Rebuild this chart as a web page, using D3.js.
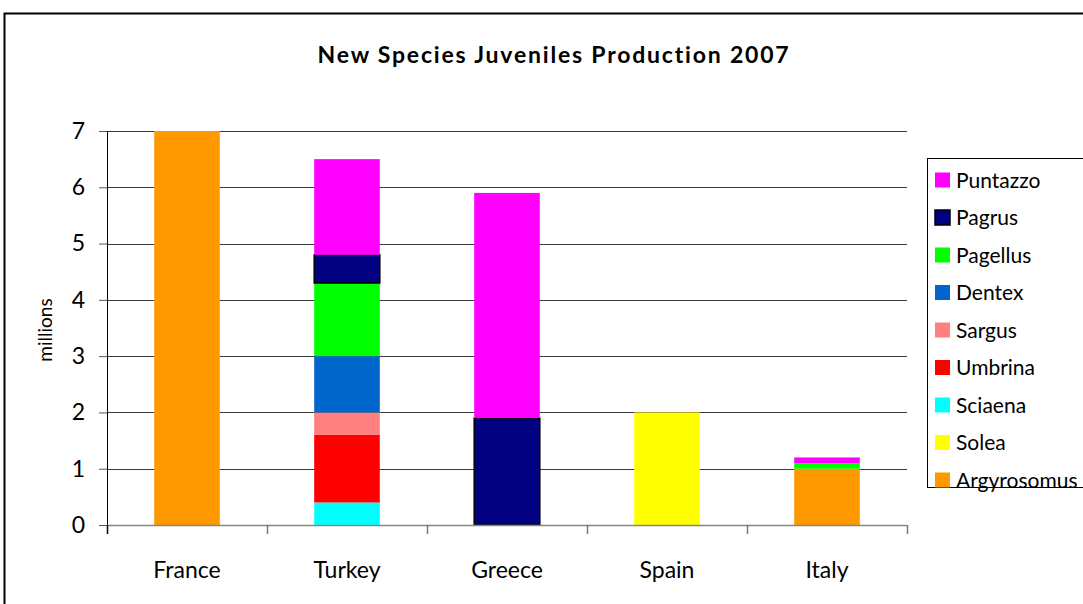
<!DOCTYPE html>
<html>
<head>
<meta charset="utf-8">
<script src="https://cdn.jsdelivr.net/npm/d3@7"></script>
<style>
  body { margin: 0; background: #fff; }
  svg { display: block; font-family: Lato, "Open Sans", sans-serif; }
</style>
</head>
<body>
<svg id="chart" width="1083" height="604"></svg>
<script>
// chart data (millions)
var countries = ["France", "Turkey", "Greece", "Spain", "Italy"];
// species listed bottom of stack -> top
var species = ["Argyrosomus", "Solea", "Sciaena", "Umbrina", "Sargus", "Dentex", "Pagellus", "Pagrus", "Puntazzo"];
var argyrosomus = [7.0, 0, 0, 0, 1.0];
var solea       = [0, 0, 0, 2.0, 0];
var sciaena     = [0, 0.4, 0, 0, 0];
var umbrina     = [0, 1.2, 0, 0, 0];
var sargus      = [0, 0.4, 0, 0, 0];
var dentex      = [0, 1.0, 0, 0, 0];
var pagellus    = [0, 1.3, 0, 0, 0.1];
var pagrus      = [0, 0.5, 1.9, 0, 0];
var puntazzo    = [0, 1.7, 4.0, 0, 0.1];
var yTicks = [0, 1, 2, 3, 4, 5, 6, 7];

var colors = {
  Argyrosomus: "#ff9900", Solea: "#ffff00", Sciaena: "#00ffff", Umbrina: "#ff0000",
  Sargus: "#ff8080", Dentex: "#0066cc", Pagellus: "#00ff00", Pagrus: "#000080", Puntazzo: "#ff00ff"
};

var values = {
  Argyrosomus: argyrosomus, Solea: solea, Sciaena: sciaena, Umbrina: umbrina,
  Sargus: sargus, Dentex: dentex, Pagellus: pagellus, Pagrus: pagrus, Puntazzo: puntazzo
};

var table = countries.map(function (c, i) {
  var row = {country: c};
  species.forEach(function (s) { row[s] = values[s][i]; });
  return row;
});

var svg = d3.select("#chart");

// outer frame (runs off the right/bottom edge like the original)
svg.append("rect")
  .attr("x", 4.5).attr("y", 13.5)
  .attr("width", 1100).attr("height", 600)
  .attr("fill", "none").attr("stroke", "#000").attr("stroke-width", 2);

var margin = {top: 131, left: 107},
    innerWidth = 800,
    innerHeight = 394;

var x = d3.scaleBand().domain(countries).range([0, innerWidth]);
var y = d3.scaleLinear().domain([0, 7]).range([innerHeight, 0]);

var g = svg.append("g")
  .attr("transform", "translate(" + margin.left + "," + margin.top + ")");

// gridlines
g.append("g").selectAll("line")
  .data(yTicks.slice(1))
  .enter().append("line")
  .attr("x1", 0).attr("x2", innerWidth)
  .attr("y1", function (d) { return Math.round(y(d)) + 0.5; })
  .attr("y2", function (d) { return Math.round(y(d)) + 0.5; })
  .attr("stroke", "#3a3a3a").attr("stroke-width", 1);

// stacked bars
var stack = d3.stack().keys(species);
var layers = stack(table);
var barW = x.bandwidth() * 0.41;

g.append("g").selectAll("g")
  .data(layers)
  .enter().append("g")
  .attr("fill", function (d) { return colors[d.key]; })
  .attr("stroke", function (d) { return d.key === "Pagrus" ? "#000" : "none"; })
  .attr("stroke-width", 1.5)
  .selectAll("rect")
  .data(function (d) { return d.filter(function (p) { return p[1] - p[0] > 0; }); })
  .enter().append("rect")
  .attr("x", function (d) { return x(d.data.country) + (x.bandwidth() - barW) / 2; })
  .attr("y", function (d) { return y(d[1]); })
  .attr("width", barW)
  .attr("height", function (d) { return y(d[0]) - y(d[1]); });

// y axis
var yAxis = g.append("g")
  .call(d3.axisLeft(y).tickValues(yTicks).tickSize(8).tickPadding(14).tickFormat(d3.format("d")));
yAxis.select(".domain").attr("stroke", "#000").attr("d", "M0.5,0V" + (innerHeight + 8));
yAxis.selectAll(".tick line").attr("stroke", "#555");
yAxis.selectAll("text").attr("font-size", 23).attr("fill", "#000")
  .attr("font-family", "Lato, sans-serif");

// x axis (ticks at category boundaries)
var xAxis = g.append("g").attr("transform", "translate(0," + innerHeight + ")");
xAxis.append("line")
  .attr("x1", 0).attr("x2", innerWidth).attr("y1", 0.5).attr("y2", 0.5)
  .attr("stroke", "#868686").attr("stroke-width", 1.5);
xAxis.selectAll(".sep")
  .data(countries.concat([null]))
  .enter().append("line")
  .attr("class", "sep")
  .attr("x1", function (d, i) { return (i < countries.length ? x(d) : innerWidth) + 0.5; })
  .attr("x2", function (d, i) { return (i < countries.length ? x(d) : innerWidth) + 0.5; })
  .attr("y1", 0).attr("y2", 9)
  .attr("stroke", function (d, i) { return i === 0 ? "#000" : "#777"; })
  .attr("stroke-width", 1.5);
xAxis.selectAll(".lab")
  .data(countries)
  .enter().append("text")
  .attr("class", "lab")
  .attr("x", function (d) { return x(d) + x.bandwidth() / 2; })
  .attr("y", 53)
  .attr("text-anchor", "middle")
  .attr("font-size", 23)
  .attr("fill", "#000")
  .text(function (d) { return d; });

// y label
svg.append("text")
  .attr("transform", "translate(52,330) rotate(-90)")
  .attr("text-anchor", "middle")
  .attr("font-size", 19)
  .attr("fill", "#000")
  .text("millions");

// title
svg.append("text")
  .attr("x", 554).attr("y", 63)
  .attr("text-anchor", "middle")
  .attr("font-size", 23)
  .attr("letter-spacing", 1.8)
  .attr("font-weight", "bold")
  .attr("fill", "#000")
  .text("New Species Juveniles Production 2007");

// legend (top item = top of stack)
var legend = svg.append("g");
legend.append("rect")
  .attr("x", 927.5).attr("y", 158.5)
  .attr("width", 200).attr("height", 329)
  .attr("fill", "#fff").attr("stroke", "#000").attr("stroke-width", 1);

var items = legend.selectAll(".item")
  .data(species.slice().reverse())
  .enter().append("g")
  .attr("class", "item")
  .attr("transform", function (d, i) { return "translate(935," + (180 + i * 37.5) + ")"; });
items.append("rect")
  .attr("x", 0).attr("y", -7.5)
  .attr("width", 15).attr("height", 15)
  .attr("fill", function (d) { return colors[d]; })
  .attr("stroke", function (d) { return d === "Pagrus" ? "#000" : "none"; })
  .attr("stroke-width", 1.5);
items.append("text")
  .attr("x", 21).attr("y", 0)
  .attr("dy", "0.36em")
  .attr("font-size", 21)
  .attr("fill", "#000")
  .text(function (d) { return d; });
</script>
</body>
</html>
